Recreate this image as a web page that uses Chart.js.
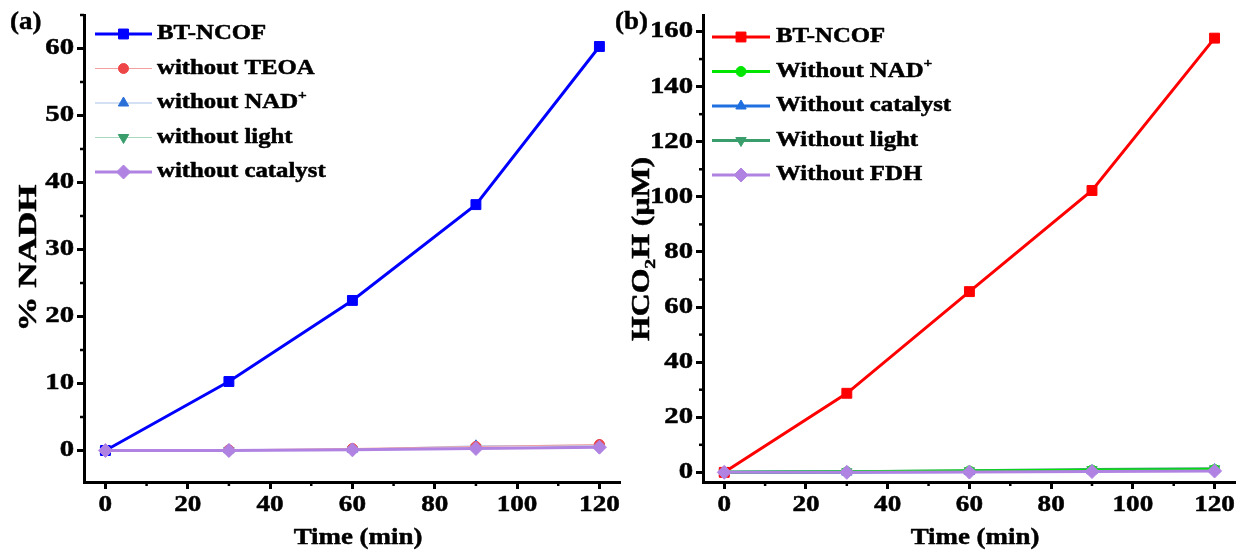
<!DOCTYPE html>
<html>
<head>
<meta charset="utf-8">
<script src="https://cdn.jsdelivr.net/npm/chart.js@4.4.1/dist/chart.umd.min.js"></script>
<style>
  body { margin: 0; background: #fff; width: 1243px; height: 550px; position: relative; overflow: hidden; }
  .panel { position: absolute; top: 0; height: 550px; }
  .tag { position: absolute; font: bold 25px "Liberation Serif", serif; color: #000; transform: scaleX(1.08); transform-origin: left top; -webkit-text-stroke: 0.4px #000; }
</style>
</head>
<body>
<div class="panel" style="left:0;width:628px"><canvas id="chartA" width="628" height="550"></canvas></div>
<div class="panel" style="left:620px;width:623px"><canvas id="chartB" width="623" height="550"></canvas></div>
<div class="tag" style="left:10px;top:7px">(a)</div>
<div class="tag" style="left:615px;top:7px">(b)</div>
<script>
// sampling times (min)
const timeMin = [0, 30, 60, 90, 120];
const xTicks = [0, 20, 40, 60, 80, 100, 120];

// (a) NADH regeneration, %
const nadhTicks = [0, 10, 20, 30, 40, 50, 60];
const nadhLabels = ['BT-NCOF', 'without TEOA', 'without NAD⁺', 'without light', 'without catalyst'];
const nadhBT = [0, 10.3, 22.4, 36.7, 60.3];
const nadhNoTEOA = [0, 0.1, 0.3, 0.6, 0.9];
const nadhNoNAD = [0, 0.1, 0.2, 0.7, 0.8];
const nadhNoLight = [0, 0.0, 0.1, 0.4, 0.6];
const nadhNoCat = [0, 0.0, 0.1, 0.3, 0.5];

// (b) formic acid produced, uM
const formicTicks = [0, 20, 40, 60, 80, 100, 120, 140, 160];
const formicLabels = ['BT-NCOF', 'Without NAD⁺', 'Without catalyst', 'Without light', 'Without FDH'];
const formicBT = [0, 28.7, 65.6, 102.3, 157.6];
const formicNoNAD = [0, 0.2, 0.5, 0.8, 1.0];
const formicNoCat = [0, 0.1, 0.3, 0.6, 1.0];
const formicNoLight = [0, 0.2, 0.6, 1.0, 1.3];
const formicNoFDH = [0, 0.0, 0.1, 0.3, 0.5];

const FONT = '"Liberation Serif", "Times New Roman", serif';

const toPoints = ys => ys.map((y, i) => ({ x: timeMin[i], y: y }));

function series(label, ys, line, mark, width, style, radius, order, rot) {
  return {
    label: label,
    data: toPoints(ys),
    borderColor: line,
    backgroundColor: mark,
    borderWidth: width,
    pointStyle: style,
    pointRotation: rot || 0,
    pointRadius: radius,
    pointHoverRadius: radius,
    pointBackgroundColor: mark,
    pointBorderColor: mark,
    pointBorderWidth: 1,
    tension: 0,
    order: order
  };
}

// split a label into plain / superscript / subscript runs
function runs(str) {
  const out = [];
  for (const ch of str) {
    const kind = ch === '⁺' ? 'sup' : ch === '₂' ? 'sub' : 'n';
    const t = ch === '⁺' ? '+' : ch === '₂' ? '2' : ch;
    const last = out[out.length - 1];
    if (last && last.kind === kind) last.t += t;
    else out.push({ kind: kind, t: t });
  }
  return out;
}

// bold serif text, widened along its own direction
function drawText(ctx, str, x, y, size, sx, align, rot) {
  const parts = runs(str);
  ctx.save();
  ctx.translate(x, y);
  if (rot) ctx.rotate(rot);
  ctx.scale(sx, 1);
  ctx.fillStyle = '#000';
  ctx.strokeStyle = '#000';
  ctx.lineWidth = 0.5;
  ctx.lineJoin = 'round';
  ctx.textBaseline = 'middle';
  ctx.textAlign = 'left';
  let total = 0;
  parts.forEach(p => {
    p.size = p.kind === 'n' ? size : size * 0.62;
    ctx.font = 'bold ' + p.size + 'px ' + FONT;
    p.w = ctx.measureText(p.t).width;
    total += p.w;
  });
  let cx = align === 'center' ? -total / 2 : align === 'right' ? -total : 0;
  parts.forEach(p => {
    ctx.font = 'bold ' + p.size + 'px ' + FONT;
    const dy = p.kind === 'sub' ? size * 0.3 : p.kind === 'sup' ? -size * 0.36 : 0;
    ctx.fillText(p.t, cx, dy);
    ctx.strokeText(p.t, cx, dy);
    cx += p.w;
  });
  ctx.restore();
}

// short ticks half way between the labelled ones
const minorTicks = {
  id: 'minorTicks',
  afterDraw(chart) {
    const ctx = chart.ctx;
    ctx.save();
    ctx.strokeStyle = '#000';
    ctx.lineWidth = 2.5;
    ['x', 'y'].forEach(id => {
      const s = chart.scales[id];
      const vals = s.ticks.map(t => t.value);
      const step = vals[1] - vals[0];
      for (let v = vals[0] - step / 2; v <= s.max; v += step) {
        if (v < s.min) continue;
        const p = s.getPixelForValue(v);
        ctx.beginPath();
        if (id === 'x') {
          ctx.moveTo(p, s.top);
          ctx.lineTo(p, s.top + 4);
        } else {
          ctx.moveTo(s.right, p);
          ctx.lineTo(s.right - 4, p);
        }
        ctx.stroke();
      }
    });
    ctx.restore();
  }
};

// tick labels and axis titles
const axisText = {
  id: 'axisText',
  afterDraw(chart, args, opts) {
    const ctx = chart.ctx;
    const xs = chart.scales.x;
    const ys = chart.scales.y;
    xs.ticks.forEach(t => {
      drawText(ctx, String(t.value), xs.getPixelForValue(t.value), 505, 23, 1.18, 'center');
    });
    ys.ticks.forEach(t => {
      drawText(ctx, String(t.value), ys.right - 10, ys.getPixelForValue(t.value), 23, 1.25, 'right');
    });
    const mid = (chart.chartArea.left + chart.chartArea.right) / 2;
    drawText(ctx, 'Time (min)', mid + 6, 538, 24, 1.12, 'center');
    drawText(ctx, opts.yTitle, opts.yTitleX, opts.yTitleY, 25, opts.yTitleSx, 'center', -Math.PI / 2);
  }
};

// legend rows: a line segment with the marker in its middle, then the label
const lineLegend = {
  id: 'lineLegend',
  afterDatasetsDraw(chart, args, opts) {
    const ctx = chart.ctx;
    chart.data.datasets.forEach((ds, i) => {
      const y = opts.top + i * opts.gap;
      ctx.save();
      ctx.strokeStyle = ds.borderColor;
      ctx.lineWidth = ds.borderWidth;
      ctx.beginPath();
      ctx.moveTo(opts.x1, y);
      ctx.lineTo(opts.x2, y);
      ctx.stroke();
      ctx.fillStyle = ds.pointBackgroundColor;
      ctx.strokeStyle = ds.pointBorderColor;
      ctx.lineWidth = 1;
      Chart.helpers.drawPoint(ctx, {
        pointStyle: ds.pointStyle, radius: ds.pointRadius, rotation: ds.pointRotation, borderWidth: 1
      }, (opts.x1 + opts.x2) / 2, y);
      ctx.restore();
      drawText(ctx, ds.label, opts.tx, y, 21, 1.18, 'left');
    });
  }
};

function makeOptions(cfg) {
  const axisLine = { color: '#000', width: 3 };
  const tickMarks = { drawOnChartArea: false, tickLength: 7, tickWidth: 3, tickColor: '#000' };
  return {
    responsive: false,
    animation: false,
    layout: { padding: { top: 15, right: cfg.padRight, left: 0, bottom: 0 } },
    plugins: {
      legend: { display: false },
      tooltip: { enabled: false },
      lineLegend: cfg.legend,
      axisText: { yTitle: cfg.yTitle, yTitleX: cfg.yTitleX, yTitleY: cfg.yTitleY, yTitleSx: cfg.yTitleSx }
    },
    scales: {
      x: {
        type: 'linear',
        min: -5.2,
        max: 125,
        afterBuildTicks: s => { s.ticks = xTicks.map(v => ({ value: v })); },
        afterFit: s => { s.height = 68; },
        border: axisLine,
        grid: tickMarks,
        ticks: { display: false }
      },
      y: {
        min: cfg.yMin,
        max: cfg.yMax,
        afterBuildTicks: s => { s.ticks = cfg.yTicks.map(v => ({ value: v })); },
        afterFit: s => { s.width = cfg.yWidth; },
        border: axisLine,
        grid: tickMarks,
        ticks: { display: false }
      }
    }
  };
}

new Chart(document.getElementById('chartA'), {
  type: 'line',
  data: {
    datasets: [
      series(nadhLabels[0], nadhBT, '#0000ff', '#0000ff', 3, 'rect', 7, 1),
      series(nadhLabels[1], nadhNoTEOA, '#f2a0a0', '#ee4646', 1, 'circle', 5, 2),
      series(nadhLabels[2], nadhNoNAD, '#a9c3e8', '#2a6fd8', 1, 'triangle', 6, 3),
      series(nadhLabels[3], nadhNoLight, '#a8d8c0', '#3a9e6c', 1, 'triangle', 6, 4, 180),
      series(nadhLabels[4], nadhNoCat, '#b083e2', '#b083e2', 3, 'rectRot', 7, 0)
    ]
  },
  options: makeOptions({
    padRight: 5, yMin: -4.7, yMax: 65, yTicks: nadhTicks, yWidth: 84,
    yTitle: '% NADH', yTitleX: 30, yTitleY: 258, yTitleSx: 1.4,
    legend: { top: 34, gap: 34.5, x1: 95, x2: 152, tx: 157 }
  }),
  plugins: [minorTicks, axisText, lineLegend]
});

new Chart(document.getElementById('chartB'), {
  type: 'line',
  data: {
    datasets: [
      series(formicLabels[0], formicBT, '#ff0000', '#ff0000', 3, 'rect', 7, 1),
      series(formicLabels[1], formicNoNAD, '#00e600', '#00e600', 3, 'circle', 5, 2),
      series(formicLabels[2], formicNoCat, '#1f6fe0', '#1f6fe0', 3, 'triangle', 6, 3),
      series(formicLabels[3], formicNoLight, '#3a9e6c', '#3a9e6c', 3, 'triangle', 6, 4, 180),
      series(formicLabels[4], formicNoFDH, '#b083e2', '#b083e2', 3, 'rectRot', 7, 0)
    ]
  },
  options: makeOptions({
    padRight: 3, yMin: -3.5, yMax: 166, yTicks: formicTicks, yWidth: 83,
    yTitle: 'HCO₂H (μM)', yTitleX: 23, yTitleY: 249, yTitleSx: 1.27,
    legend: { top: 37, gap: 34.5, x1: 92, x2: 150, tx: 156 }
  }),
  plugins: [minorTicks, axisText, lineLegend]
});
</script>
</body>
</html>
